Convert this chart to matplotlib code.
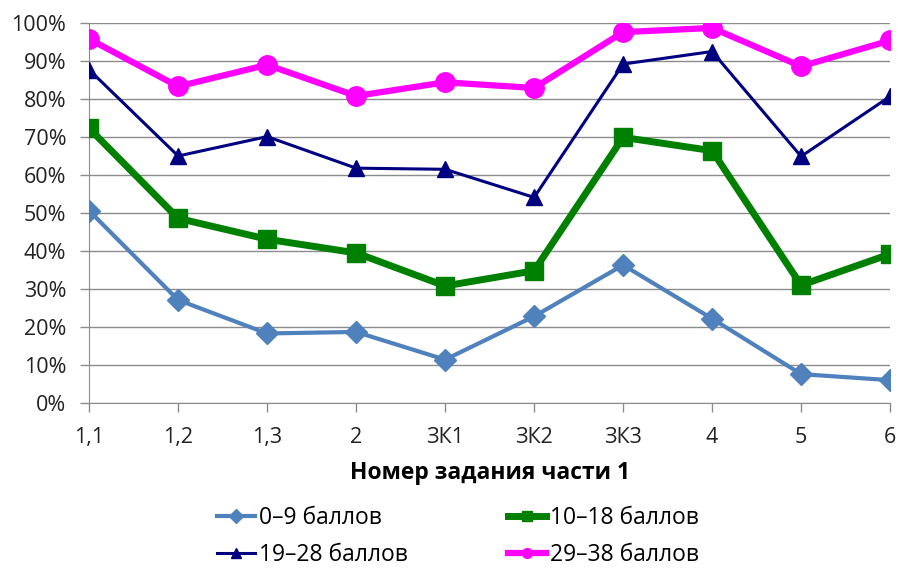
import matplotlib.pyplot as plt
from matplotlib.lines import Line2D
from matplotlib.ticker import PercentFormatter

# ----------------- Plot config --------------------------------------- #
plt.rcParams["font.family"] = ["Open Sans", "DejaVu Sans"]
plt.rc('font', size=15)

# ----------------- Data ---------------------------------------------- #
tasks = ['1,1', '1,2', '1,3', '2', 'ЗК1', 'ЗК2', 'ЗК3', '4', '5', '6']

score_0_9 = [50.6, 27.1, 18.3, 18.7, 11.4, 22.8, 36.3, 22.2, 7.6, 6.0]
score_10_18 = [72.3, 48.6, 43.1, 39.5, 30.8, 34.8, 69.9, 66.4, 31.0, 39.2]
score_19_28 = [87.7, 65.0, 70.1, 61.8, 61.5, 54.1, 89.2, 92.5, 64.9, 80.7]
score_29_38 = [95.8, 83.3, 89.0, 80.8, 84.4, 82.9, 97.6, 98.7, 88.6, 95.4]

labels = ['0–9 баллов', '10–18 баллов', '19–28 баллов', '29–38 баллов']

# --------------------------------------------------------------------- #

styles = [
    dict(color='#4F81BD', lw=3, marker='D', ms=11),
    dict(color='#008000', lw=5, marker='s', ms=13),
    dict(color='#000080', lw=2.2, marker='^', ms=11),
    dict(color='#FF00FF', lw=4.5, marker='o', ms=14),
]
series = [score_0_9, score_10_18, score_19_28, score_29_38]

fig = plt.figure(figsize=(9, 5.68), dpi=100)
ax = fig.add_axes([0.099, 0.2905, 0.890, 0.669])

x = range(len(tasks))
for i, (vals, st) in enumerate(zip(series, styles)):
    ax.plot(x, vals, label=labels[i], zorder=3 + i, **st)

ax.set_xlim(0, len(tasks) - 1)
ax.set_ylim(0, 100)
ax.set_yticks(range(0, 101, 10))
ax.yaxis.set_major_formatter(PercentFormatter(decimals=0))
ax.set_xticks(list(x))
ax.set_xticklabels(tasks)

ax.grid(axis='y', color='#8c8c8c', lw=1)
ax.set_axisbelow(True)
for side in ['top', 'right']:
    ax.spines[side].set_visible(False)
for side in ['left', 'bottom']:
    ax.spines[side].set_color('#8c8c8c')
ax.tick_params(axis='both', color='#8c8c8c', length=6.5, width=1,
               labelsize=15.5, labelcolor='#222222')
ax.tick_params(axis='y', pad=10)
ax.tick_params(axis='x', pad=11)

ax.set_xlabel('Номер задания части 1', fontweight='bold', fontsize=16.5,
              labelpad=9)

# legend with small markers, order: column-wise like the original
handles = []
for st in styles:
    h = dict(st)
    h['ms'] = 7
    handles.append(Line2D([], [], **h))
order = [0, 2, 1, 3]
fig.legend([handles[i] for i in order], [labels[i] for i in order], ncol=2,
           loc='center', bbox_to_anchor=(458 / 900, 0.055),
           bbox_transform=fig.transFigure, frameon=False, borderpad=0.2,
           fontsize=16.5, handlelength=1.65, columnspacing=4.4,
           labelspacing=0.55, handletextpad=0.15)

fig.savefig('out.png', dpi=100)
